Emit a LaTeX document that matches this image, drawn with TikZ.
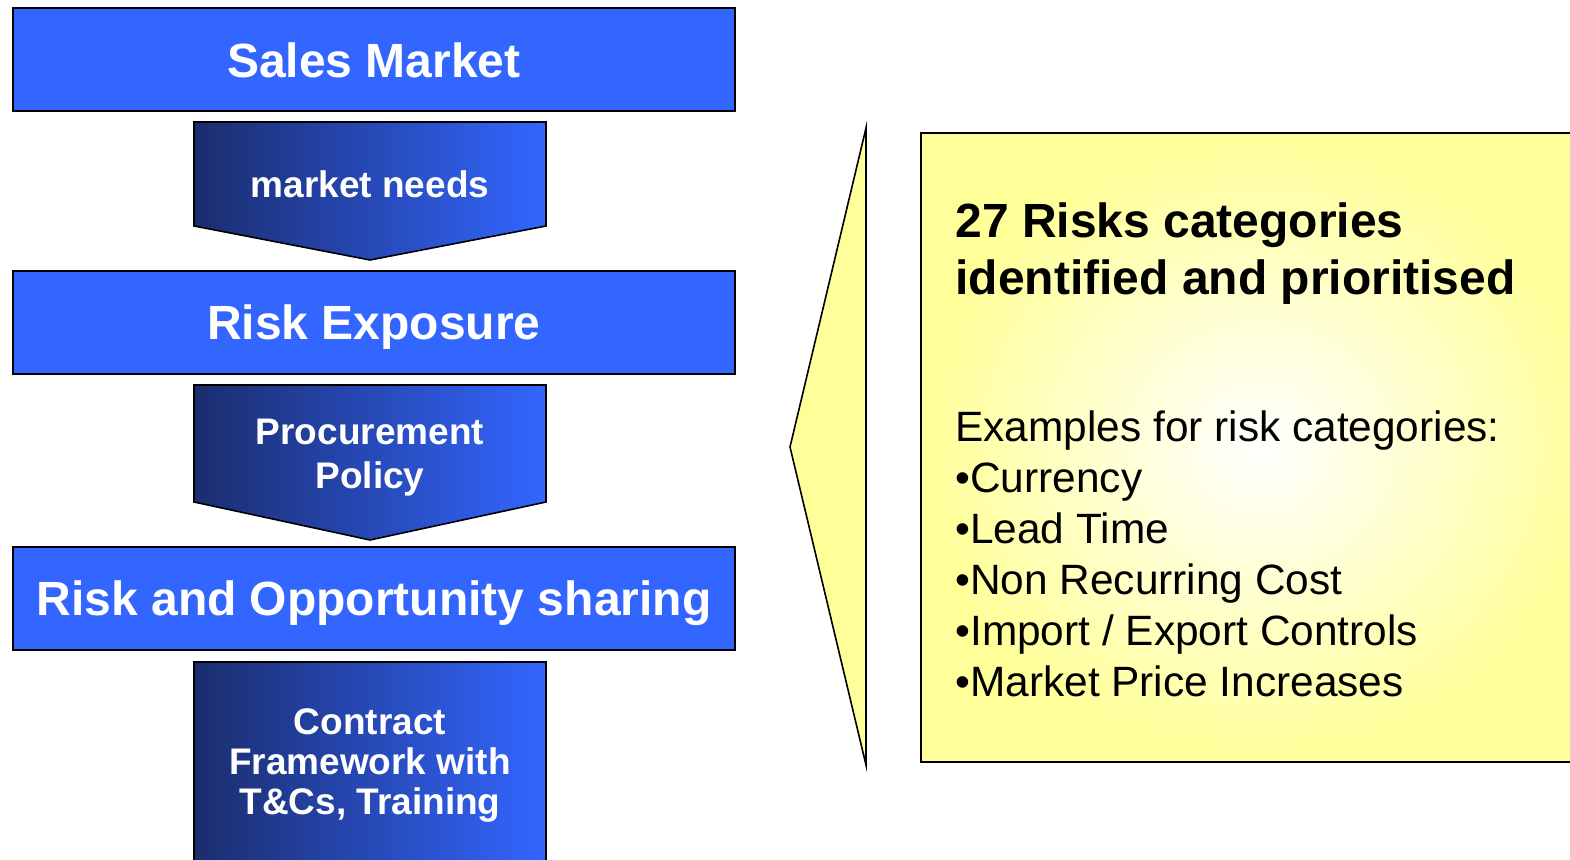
\documentclass[tikz,border=0pt]{standalone}
\usepackage{fontspec}
\setmainfont{Liberation Sans}
\usetikzlibrary{positioning}
\definecolor{boxblue}{HTML}{3366FF}
\definecolor{navyblue}{HTML}{1B2D6E}
\definecolor{noteyellow}{HTML}{FFFF99}

\begin{document}
\begin{tikzpicture}[
  x=0.5pt, y=-0.5pt,
  stage/.style={draw, line width=1pt, fill=boxblue, text=white, minimum width=361pt, minimum height=51.5pt, inner sep=0pt, text depth=0pt, font=\fontsize{24}{28}\selectfont\bfseries},
  chevron/.style={draw, line width=0.8pt, left color=navyblue, right color=boxblue},
  flowtext/.style={text=white, align=center, inner sep=0pt, font=\fontsize{18.5}{22}\selectfont\bfseries},
  notetext/.style={anchor=base west, align=left, inner sep=0pt}
]
  \useasboundingbox (0,0) rectangle (1570,860);
  \clip (0,0) rectangle (1570,860);

  % Stufen links
  \node[stage] (sales) at (374,60) {Sales Market};
  \node[stage] (exposure) at (374,322.5) {Risk Exposure};
  \node[stage] (sharing) at (374,598.5) {Risk and Opportunity sharing};

  % Pfeile zwischen den Stufen
  \path[chevron] (194,122) -- (546,122) -- (546,226) -- (370,260) -- (194,226) -- cycle;
  \node[flowtext] (needs) at (370,184) {market needs};
  \path[chevron] (194,385) -- (546,385) -- (546,502) -- (370,540) -- (194,502) -- cycle;
  \node[flowtext] (policy) at (370,458) {Procurement\\Policy};
  \path[chevron] (194,662) -- (546,662) -- (546,880) -- (194,880) -- cycle;
  \node[flowtext, font=\fontsize{18.5}{20}\selectfont\bfseries] (contract) at (370,766) {Contract\\Framework with\\T\&Cs, Training};

  % Notiz rechts
  \path[draw, line width=0.8pt, fill=noteyellow] (866,128) -- (790,447) -- (866,765) -- cycle;
  \shade[draw, line width=0.8pt, inner color=white, outer color=noteyellow] (921,133) rectangle (1600,762);
  \node[notetext, font=\fontsize{24}{28.5}\selectfont\bfseries] (risktitle) at (955,295)
    {27 Risks categories\\identified and prioritised};
  \node[notetext, font=\fontsize{21.2}{25.5}\selectfont] (risklist) at (955,697)
    {Examples for risk categories:\\•Currency\\•Lead Time\\•Non Recurring Cost\\•Import / Export Controls\\•Market Price Increases};
\end{tikzpicture}
\end{document}
